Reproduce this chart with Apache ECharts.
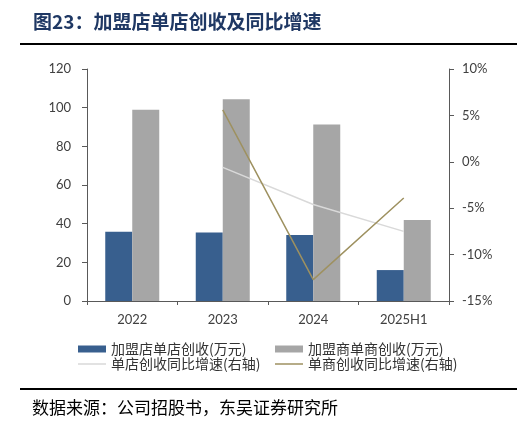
<!DOCTYPE html>
<html><head><meta charset="utf-8">
<script src="https://cdn.jsdelivr.net/npm/echarts@6/dist/echarts.min.js"></script>
<style>html,body{margin:0;padding:0;background:#fff}#c{width:526px;height:433px}</style>
</head><body><div id="c"></div>
<script>
const categories = ['2022', '2023', '2024', '2025H1'];
const storeRevenue = [35.8, 35.4, 34.1, 16.0];
const franchiseeRevenue = [98.9, 104.3, 91.3, 41.9];
const storeYoY = [null, -0.6, -4.6, -7.5];
const franchiseeYoY = [null, 5.6, -12.7, -3.9];
const leftTicks = {min: 0, max: 120, interval: 20};
const rightTicks = {min: -15, max: 10, interval: 5};
const names = ['加盟店单店创收(万元)', '加盟商单商创收(万元)', '单店创收同比增速(右轴)', '单商创收同比增速(右轴)'];

const chart = echarts.init(document.getElementById('c'), null, {renderer: 'canvas'});
const axisFont = {color: '#404040', fontSize: 13, fontFamily: 'Lato, "Noto Sans", sans-serif'};
const legendFont = {color: '#333', fontSize: 14, fontFamily: '"Noto Sans CJK SC", sans-serif'};
const axisLineStyle = {color: '#595959', width: 1};
function lg(name, left, top, icon, h) {
  return {data: [name], left: left, top: top, itemWidth: 28, itemHeight: h, icon: icon,
    itemGap: 0, textStyle: legendFont, padding: 0, selectedMode: false};
}
chart.setOption({
  animation: false,
  backgroundColor: '#fff',
  graphic: [
    {type: 'text', left: 33, top: 12, style: {text: '图23：加盟店单店创收及同比增速', fill: '#1F3864',
      font: 'bold 19px "Noto Sans CJK SC", sans-serif'}},
    {type: 'line', shape: {x1: 20, y1: 44, x2: 517, y2: 44}, style: {stroke: '#000', lineWidth: 2}},
    {type: 'line', shape: {x1: 20, y1: 389, x2: 517, y2: 389}, style: {stroke: '#000', lineWidth: 2}},
    {type: 'text', left: 32, top: 399, style: {text: '数据来源：公司招股书，东吴证券研究所', fill: '#000',
      font: '17px "Noto Sans CJK SC", sans-serif'}}
  ],
  legend: [
    lg(names[0], 78, 342, 'rect', 7),
    lg(names[1], 275, 342, 'rect', 7),
    lg(names[2], 78, 357, 'rect', 1.5),
    lg(names[3], 275, 357, 'rect', 1.5)
  ],
  grid: {left: 87, right: 77, top: 69, bottom: 132, containLabel: false},
  xAxis: {type: 'category', data: categories, boundaryGap: true,
    axisLine: {lineStyle: axisLineStyle}, axisTick: {show: true, interval: 0, length: 4, lineStyle: axisLineStyle},
    axisLabel: Object.assign({margin: 12}, axisFont)},
  yAxis: [
    Object.assign({type: 'value', position: 'left', axisLine: {show: true, lineStyle: axisLineStyle},
      axisTick: {show: true, length: 5, lineStyle: axisLineStyle}, splitLine: {show: false},
      axisLabel: Object.assign({margin: 16}, axisFont)}, leftTicks),
    Object.assign({type: 'value', position: 'right', axisLine: {show: true, lineStyle: axisLineStyle},
      axisTick: {show: true, length: 5, lineStyle: axisLineStyle}, splitLine: {show: false},
      axisLabel: Object.assign({margin: 13, formatter: '{value}%'}, axisFont)}, rightTicks)
  ],
  series: [
    {name: names[0], type: 'bar', data: storeRevenue, barWidth: 27, barGap: '0%', itemStyle: {color: '#385F8E'}},
    {name: names[1], type: 'bar', data: franchiseeRevenue, barWidth: 27, barGap: '0%', itemStyle: {color: '#A6A6A6'}},
    {name: names[2], type: 'line', yAxisIndex: 1, data: storeYoY, showSymbol: false, symbol: 'none',
      lineStyle: {color: '#D9D9D9', width: 1.5}, itemStyle: {color: '#D9D9D9'}},
    {name: names[3], type: 'line', yAxisIndex: 1, data: franchiseeYoY, showSymbol: false, symbol: 'none',
      lineStyle: {color: '#9E9160', width: 1.5}, itemStyle: {color: '#9E9160'}}
  ]
});
</script></body></html>
